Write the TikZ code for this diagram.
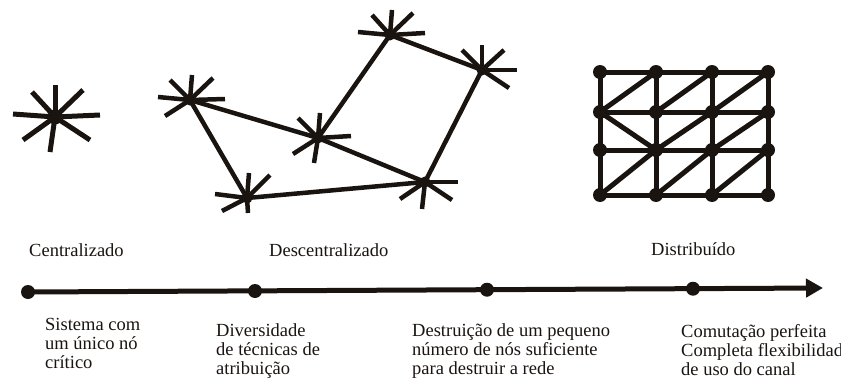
\documentclass[tikz,border=0pt]{standalone}
\usepackage{fontspec}
\setmainfont{Liberation Serif}
\newfontfamily\labelfont{Liberation Serif}
\usetikzlibrary{arrows.meta}
\definecolor{ink}{RGB}{26,20,16}
\begin{document}
\begin{tikzpicture}[x=1pt,y=-1pt,
  hub/.style={circle,fill=ink,inner sep=0pt,minimum size=#1},
  spoke/.style={draw=ink,line width=4.5pt},
  link/.style={draw=ink,line width=4.5pt,shorten <=-2pt,shorten >=-2pt},
  gridline/.style={draw=ink,line width=5pt},
  txt/.style={anchor=base west,inner sep=0pt,text=ink,font=\labelfont\fontsize{18.5}{19}\selectfont}
]
\useasboundingbox (0,0) rectangle (841,383);

% centralised star
\node[hub=15pt] (c) at (55,117) {};
\foreach \dx/\dy in {0/-32,-23/-25,28/-27,-42/-3,45/-2,-32/23,35/23,-5/35}
  \draw[spoke,line width=5pt] (c.center) -- ++(\dx,\dy);

% decentralised network
\node[hub=11pt] (n1) at (190,100) {};
\node[hub=11pt] (n2) at (247,198) {};
\node[hub=11pt] (n3) at (318,138) {};
\node[hub=11pt] (n4) at (390,35) {};
\node[hub=11pt] (n5) at (482,70) {};
\node[hub=11pt] (n6) at (425,182) {};
\foreach \dx/\dy in {2/-25,23/-22,-20/-20,-32/-3,35/-1,-25/16}
  \draw[spoke] (n1.center) -- ++(\dx,\dy);
\foreach \dx/\dy in {2/-25,23/-23,-32/-4,-25/13,1/15}
  \draw[spoke] (n2.center) -- ++(\dx,\dy);
\foreach \dx/\dy in {2/-25,-20/-20,33/-2,-25/16,-4/25}
  \draw[spoke] (n3.center) -- ++(\dx,\dy);
\foreach \dx/\dy in {2/-25,23/-22,-18/-20,-32/-3,35/-2}
  \draw[spoke] (n4.center) -- ++(\dx,\dy);
\foreach \dx/\dy in {0/-25,22/-20,-20/-20,35/0,27/18}
  \draw[spoke] (n5.center) -- ++(\dx,\dy);
\foreach \dx/\dy in {33/0,27/18,-25/17,-3/27}
  \draw[spoke] (n6.center) -- ++(\dx,\dy);
\draw[link] (n1) -- (n2);
\draw[link] (n1) -- (n3);
\draw[link] (n3) -- (n4);
\draw[link] (n4) -- (n5);
\draw[link] (n5) -- (n6);
\draw[link] (n3) -- (n6);
\draw[link] (n2) -- (n6);

% distributed grid
\foreach \c/\x in {1/600,2/656,3/712,4/768}
  \foreach \r/\y in {1/72,2/112,3/150,4/195}
    \node[hub=14pt] (g\r\c) at (\x,\y) {};
\foreach \r in {1,2,3,4}
  \draw[gridline] (g\r1.center) -- (g\r2.center) -- (g\r3.center) -- (g\r4.center);
\foreach \c in {1,2,3,4}
  \draw[gridline] (g1\c.center) -- (g2\c.center) -- (g3\c.center) -- (g4\c.center);
\draw[gridline] (g12.center) -- (g21.center);
\draw[gridline] (g13.center) -- (g22.center);
\draw[gridline] (g14.center) -- (g23.center);
\draw[gridline] (g21.center) -- (g32.center);
\draw[gridline] (g23.center) -- (g32.center);
\draw[gridline] (g24.center) -- (g33.center);
\draw[gridline] (g32.center) -- (g41.center);
\draw[gridline] (g33.center) -- (g42.center);
\draw[gridline] (g34.center) -- (g43.center);

% timeline
\node[hub=14pt] (t1) at (28,292) {};
\node[hub=14pt] (t2) at (255,291) {};
\node[hub=14pt] (t3) at (487,289.7) {};
\node[hub=14pt] (t4) at (693,288.7) {};
\coordinate (tend) at (823,288);
\draw[draw=ink,line width=5pt,-{Triangle[length=17pt,width=18pt]}] (t1.center) -- (tend);

% labels
\node[txt] (lc) at (29,256) {Centralizado};
\node[txt] (ld) at (269,256) {Descentralizado};
\node[txt] (ldi) at (651,255) {Distribuído};
\node[txt,align=left] (s1) at (45,368) {Sistema com\\um único nó\\crítico};
\node[txt,align=left] (s2) at (216,374) {Diversidade\\de técnicas de\\atribuição};
\node[txt,align=left] (s3) at (412,374) {Destruição de um pequeno\\número de nós suficiente\\para destruir a rede};
\node[txt,align=left] (s4) at (681,375) {Comutação perfeita\\Completa flexibilidade\\de uso do canal};
\end{tikzpicture}
\end{document}
